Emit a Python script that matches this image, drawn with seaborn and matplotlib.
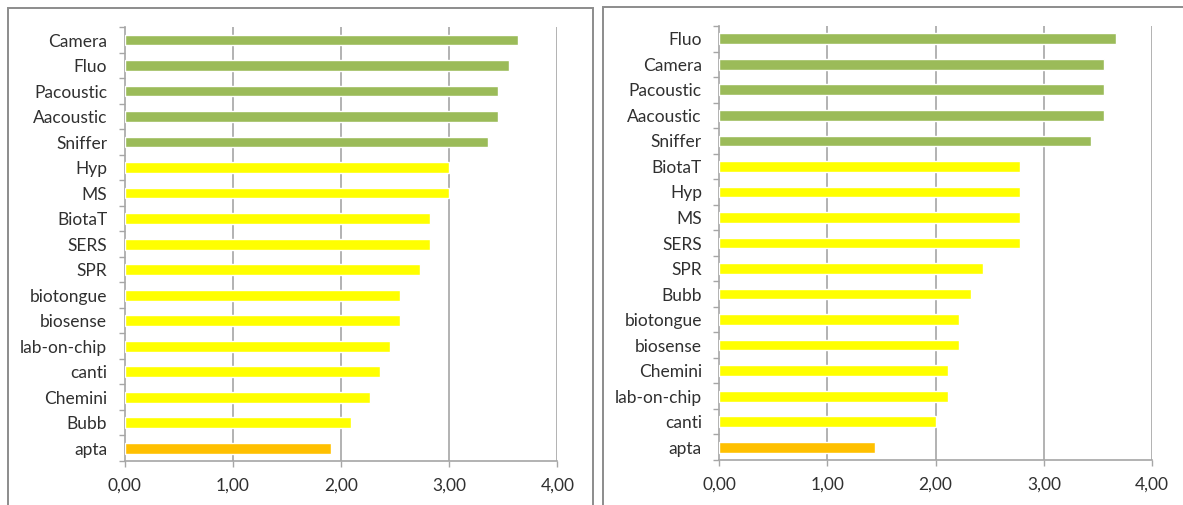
import numpy as np
import pandas as pd
import matplotlib
matplotlib.use("Agg")
import matplotlib.pyplot as plt
from matplotlib.patches import Rectangle
import seaborn as sns

# Left ranking
left_labels = ["Camera", "Fluo", "Pacoustic", "Aacoustic", "Sniffer", "Hyp", "MS",
               "BiotaT", "SERS", "SPR", "biotongue", "biosense", "lab-on-chip",
               "canti", "Chemini", "Bubb", "apta"]
left_values = [3.64, 3.55, 3.45, 3.45, 3.36, 3.00, 3.00,
               2.82, 2.82, 2.73, 2.55, 2.55, 2.45,
               2.36, 2.27, 2.09, 1.91]
left_groups = ["high"] * 5 + ["mid"] * 11 + ["low"]

# Right ranking
right_labels = ["Fluo", "Camera", "Pacoustic", "Aacoustic", "Sniffer", "BiotaT", "Hyp",
                "MS", "SERS", "SPR", "Bubb", "biotongue", "biosense", "Chemini",
                "lab-on-chip", "canti", "apta"]
right_values = [3.67, 3.56, 3.56, 3.56, 3.44, 2.78, 2.78,
                2.78, 2.78, 2.44, 2.33, 2.22, 2.22, 2.11,
                2.11, 2.00, 1.44]
right_groups = ["high"] * 5 + ["mid"] * 11 + ["low"]

x_ticks = [0, 1, 2, 3, 4]
x_tick_labels = ["0,00", "1,00", "2,00", "3,00", "4,00"]

palette = {"high": "#9BBB59", "mid": "#FFFF00", "low": "#FFC000"}

sns.set_theme(style="white")
plt.rcParams["font.family"] = ["Lato", "DejaVu Sans"]

W, H = 1183, 505
fig = plt.figure(figsize=(W / 100, H / 100), dpi=100)
fig.patch.set_facecolor("white")

grid_col = "#A6A6A6"
text_col = "#303030"

# Panel frames
fig.patches.append(Rectangle((8 / W, -10 / H), (593 - 8) / W, (497 + 10) / H,
                             transform=fig.transFigure, fill=False,
                             edgecolor="#8C8C8C", linewidth=1.4, zorder=0))
fig.patches.append(Rectangle((603 / W, -10 / H), (1195 - 603) / W, (498 + 10) / H,
                             transform=fig.transFigure, fill=False,
                             edgecolor="#8C8C8C", linewidth=1.4, zorder=0))

panels = [
    (left_labels, left_values, left_groups, [124.6, 27.3, 557.3, 461.0]),
    (right_labels, right_values, right_groups, [719.3, 26.0, 1152.0, 460.0]),
]

for labels, values, groups, (x0, y0, x1, y1) in panels:
    ax = fig.add_axes([x0 / W, (H - y1) / H, (x1 - x0) / W, (y1 - y0) / H])
    df = pd.DataFrame({"label": labels, "value": values, "group": groups})
    sns.barplot(data=df, x="value", y="label", hue="group", palette=palette,
                dodge=False, legend=False, width=0.42, orient="h",
                saturation=1, ax=ax, zorder=3)
    n = len(labels)
    ax.set_xlim(0, 4)
    ax.set_ylim(n - 0.5, -0.5)
    ax.set_xticks(x_ticks)
    ax.set_xticklabels(x_tick_labels)
    ax.set_yticks(np.arange(-0.5, n, 1), minor=True)
    ax.set_xlabel("")
    ax.set_ylabel("")
    for v in x_ticks[1:]:
        ax.axvline(v, color=grid_col, linewidth=1.2, zorder=1)
    for side in ["top", "right"]:
        ax.spines[side].set_visible(False)
    for side in ["left", "bottom"]:
        ax.spines[side].set_color(grid_col)
        ax.spines[side].set_linewidth(1.2)
    ax.tick_params(axis="y", which="major", length=0, pad=12.5,
                   labelsize=12.5, labelcolor=text_col)
    ax.tick_params(axis="y", which="minor", length=4, width=1.0,
                   color=grid_col, direction="out", left=True)
    ax.tick_params(axis="x", which="major", length=4, width=1.0,
                   color=grid_col, direction="out", bottom=True, pad=8,
                   labelsize=12.5, labelcolor=text_col)
    ax.set_facecolor("none")

fig.savefig("out.png", dpi=100, facecolor="white")
